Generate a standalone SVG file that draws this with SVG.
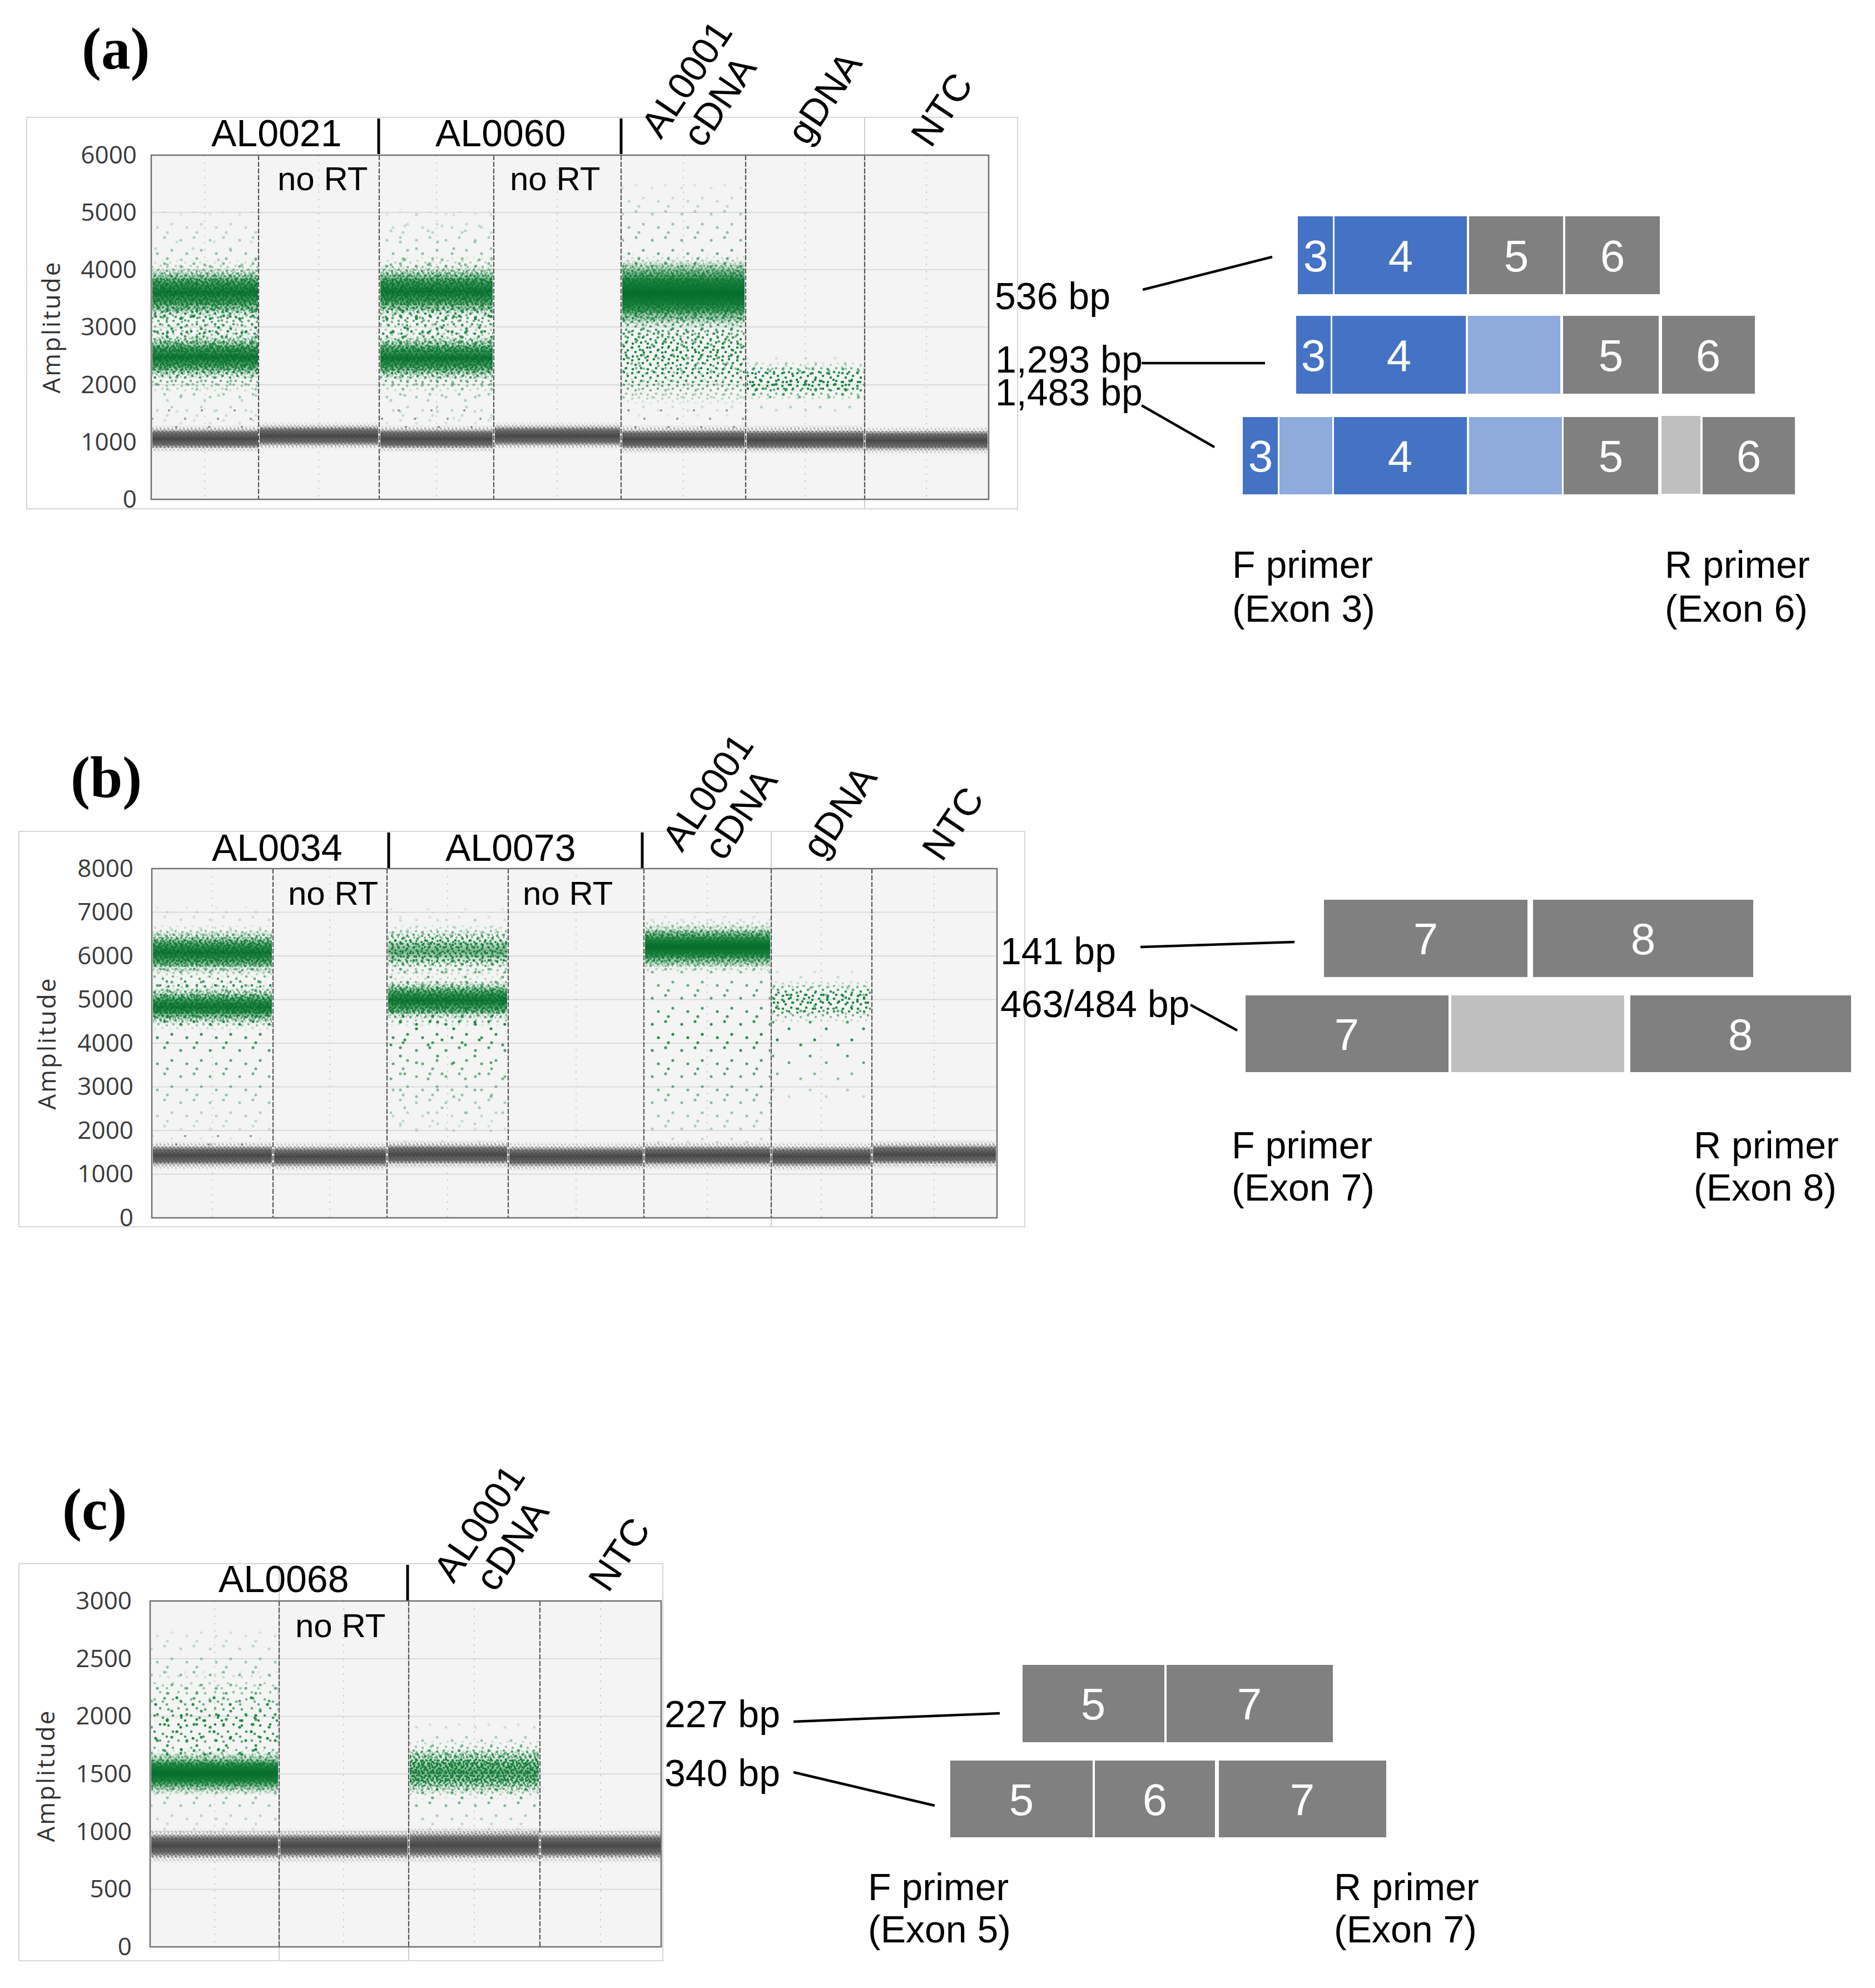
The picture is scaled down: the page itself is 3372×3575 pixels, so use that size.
<svg xmlns="http://www.w3.org/2000/svg" width="3372" height="3575" viewBox="0 0 3372 3575">
<style>
.lbl{font-family:"Liberation Sans",Arial,sans-serif;font-size:68px;fill:#000}
.nort{font-family:"Liberation Sans",Arial,sans-serif;font-size:60px;fill:#000}
.rot{font-family:"Liberation Sans",Arial,sans-serif;font-size:68px;fill:#000;text-anchor:middle}
.tick{font-family:"Open Sans","Liberation Sans",sans-serif;font-size:44px;fill:#3a3a3a;text-anchor:end}
.amp{font-family:"Open Sans","Liberation Sans",sans-serif;font-size:44px;letter-spacing:3px;fill:#333;text-anchor:middle}
.ex{font-family:"Liberation Sans",Arial,sans-serif;font-size:80px;fill:#fff;text-anchor:middle}
.pl{font-family:"Liberation Serif","Times New Roman",serif;font-weight:bold;font-size:105px;fill:#000}
.frame{fill:#fff;stroke:#d6d6d6;stroke-width:2}
.plot{fill:#f4f4f4}
.border{fill:none;stroke:#707070;stroke-width:2.5}
.grid{stroke:#d9d9d9;stroke-width:2}
.minor{stroke:#cfcfcf;stroke-width:2;stroke-dasharray:3 10}
.div{stroke:#555;stroke-width:2.2;stroke-dasharray:9 3}
.fl{stroke:#d0d0d0;stroke-width:2}
.sep{stroke:#000;stroke-width:5}
.conn{stroke:#000;stroke-width:4.5;fill:none}
.blue{fill:#4472c4}
.lblue{fill:#8faadc}
.gray{fill:#808080}
.lgray{fill:#bfbfbf}
</style>
<defs>
<pattern id="gd" width="16" height="14" patternUnits="userSpaceOnUse">
<g fill="#167f3a"><circle cx="2" cy="2" r="1.9"/><circle cx="9" cy="1" r="1.9"/><circle cx="14" cy="6" r="1.9"/><circle cx="5" cy="7" r="1.9"/><circle cx="11" cy="10" r="1.9"/><circle cx="1" cy="12" r="1.9"/><circle cx="7" cy="13" r="1.9"/></g>
</pattern>
<pattern id="gd2" width="19" height="17" patternUnits="userSpaceOnUse">
<g fill="#1a8640"><circle cx="4" cy="3" r="1.9"/><circle cx="13" cy="2" r="1.9"/><circle cx="8" cy="9" r="1.9"/><circle cx="17" cy="11" r="1.9"/><circle cx="2" cy="14" r="1.9"/><circle cx="11" cy="15" r="1.9"/></g>
</pattern>
<pattern id="gm" width="27" height="23" patternUnits="userSpaceOnUse">
<g fill="#1b8842"><circle cx="3" cy="4" r="2.3"/><circle cx="15" cy="2" r="2.3"/><circle cx="22" cy="9" r="2.3"/><circle cx="9" cy="12" r="2.3"/><circle cx="19" cy="18" r="2.3"/><circle cx="4" cy="20" r="2.3"/></g>
</pattern>
<pattern id="gm2" width="33" height="29" patternUnits="userSpaceOnUse">
<g fill="#1b8842"><circle cx="6" cy="5" r="2.3"/><circle cx="24" cy="3" r="2.3"/><circle cx="14" cy="16" r="2.3"/><circle cx="29" cy="20" r="2.3"/><circle cx="3" cy="25" r="2.3"/></g>
</pattern>
<pattern id="gs" width="53" height="47" patternUnits="userSpaceOnUse">
<g fill="#1b8842"><circle cx="7" cy="9" r="2.6"/><circle cx="31" cy="4" r="2.6"/><circle cx="44" cy="27" r="2.6"/><circle cx="18" cy="33" r="2.6"/><circle cx="36" cy="42" r="2.6"/></g>
</pattern>
<pattern id="gs2" width="67" height="61" patternUnits="userSpaceOnUse">
<g fill="#1b8842"><circle cx="12" cy="20" r="2.6"/><circle cx="50" cy="8" r="2.6"/><circle cx="33" cy="49" r="2.6"/><circle cx="58" cy="40" r="2.6"/></g>
</pattern>
<pattern id="kd" width="14" height="11" patternUnits="userSpaceOnUse">
<g fill="#555"><circle cx="2" cy="2" r="1.8"/><circle cx="9" cy="1" r="1.8"/><circle cx="12" cy="6" r="1.8"/><circle cx="5" cy="6" r="1.8"/><circle cx="1" cy="9" r="1.8"/><circle cx="8" cy="10" r="1.8"/></g>
</pattern>
<pattern id="ks" width="59" height="43" patternUnits="userSpaceOnUse">
<g fill="#8a8a8a"><circle cx="9" cy="7" r="2"/><circle cx="38" cy="22" r="2"/><circle cx="22" cy="37" r="2"/></g>
</pattern>
<linearGradient id="fg" x1="0" y1="0" x2="0" y2="1">
<stop offset="0" stop-color="#fff" stop-opacity="0"/><stop offset="0.3" stop-color="#fff" stop-opacity="1"/><stop offset="0.7" stop-color="#fff" stop-opacity="1"/><stop offset="1" stop-color="#fff" stop-opacity="0"/>
</linearGradient>
<linearGradient id="fgs" x1="0" y1="0" x2="0" y2="1">
<stop offset="0" stop-color="#fff" stop-opacity="0.1"/><stop offset="0.5" stop-color="#fff" stop-opacity="1"/><stop offset="1" stop-color="#fff" stop-opacity="0.1"/>
</linearGradient>
<mask id="fade" maskContentUnits="objectBoundingBox"><rect width="1" height="1" fill="url(#fg)"/></mask>
<mask id="fadeS" maskContentUnits="objectBoundingBox"><rect width="1" height="1" fill="url(#fgs)"/></mask>
<linearGradient id="gc" x1="0" y1="0" x2="0" y2="1">
<stop offset="0" stop-color="#0f7a33" stop-opacity="0"/><stop offset="0.3" stop-color="#0b7730" stop-opacity="0.75"/><stop offset="0.5" stop-color="#036d2a" stop-opacity="0.92"/><stop offset="0.7" stop-color="#0b7730" stop-opacity="0.75"/><stop offset="1" stop-color="#0f7a33" stop-opacity="0"/>
</linearGradient>
<linearGradient id="gcl" x1="0" y1="0" x2="0" y2="1">
<stop offset="0" stop-color="#138037" stop-opacity="0"/><stop offset="0.5" stop-color="#0f7a33" stop-opacity="0.55"/><stop offset="1" stop-color="#138037" stop-opacity="0"/>
</linearGradient>
<linearGradient id="kc" x1="0" y1="0" x2="0" y2="1">
<stop offset="0" stop-color="#6a6a6a" stop-opacity="0"/><stop offset="0.2" stop-color="#5a5a5a" stop-opacity="0.85"/><stop offset="0.5" stop-color="#474747" stop-opacity="1"/><stop offset="0.8" stop-color="#5a5a5a" stop-opacity="0.85"/><stop offset="1" stop-color="#6a6a6a" stop-opacity="0"/>
</linearGradient>
</defs>
<rect width="3372" height="3575" fill="#fff"/>

<!-- ================= PANEL A ================= -->
<g id="panel-a-title"><text class="pl" x="147" y="123">(a)</text></g>
<g id="chart-a">
<rect class="frame" x="48" y="211" width="1782" height="704"/>
<rect class="plot" x="272" y="279" width="1506" height="619"/>
<g class="grid"><line x1="272" x2="1778" y1="382" y2="382"/><line x1="272" x2="1778" y1="485" y2="485"/><line x1="272" x2="1778" y1="588" y2="588"/><line x1="272" x2="1778" y1="692" y2="692"/><line x1="272" x2="1778" y1="795" y2="795"/></g>
<g class="minor"><line x1="368" x2="368" y1="279" y2="898"/><line x1="573" x2="573" y1="279" y2="898"/><line x1="785" x2="785" y1="279" y2="898"/><line x1="1002" x2="1002" y1="279" y2="898"/><line x1="1229" x2="1229" y1="279" y2="898"/><line x1="1448" x2="1448" y1="279" y2="898"/><line x1="1666" x2="1666" y1="279" y2="898"/></g>
<line class="fl" x1="1555" x2="1555" y1="211" y2="915"/>
<g id="data-a">
<!-- AL0021 -->
<rect x="274" y="380" width="190" height="390" fill="url(#gs)" mask="url(#fadeS)"/>
<rect x="274" y="420" width="190" height="330" fill="url(#gs2)" mask="url(#fadeS)"/>
<rect x="274" y="540" width="190" height="110" fill="url(#gm2)" mask="url(#fadeS)"/>
<rect x="274" y="465" width="190" height="140" fill="url(#gm)" mask="url(#fade)"/>
<rect x="274" y="480" width="190" height="92" fill="url(#gd)" mask="url(#fade)"/>
<rect x="274" y="480" width="190" height="92" fill="url(#gd2)" mask="url(#fade)"/>
<rect x="274" y="490" width="190" height="72" fill="url(#gc)"/>
<rect x="274" y="588" width="190" height="120" fill="url(#gm)" mask="url(#fade)"/>
<rect x="274" y="602" width="190" height="80" fill="url(#gd)" mask="url(#fade)"/>
<rect x="274" y="602" width="190" height="80" fill="url(#gd2)" mask="url(#fade)"/>
<rect x="274" y="612" width="190" height="60" fill="url(#gc)"/>
<rect x="274" y="730" width="190" height="40" fill="url(#ks)"/>
<!-- AL0060 -->
<rect x="684" y="375" width="202" height="395" fill="url(#gs2)" mask="url(#fadeS)"/>
<rect x="684" y="380" width="202" height="390" fill="url(#gs)" mask="url(#fadeS)"/>
<rect x="684" y="540" width="202" height="110" fill="url(#gm2)" mask="url(#fadeS)"/>
<rect x="684" y="460" width="202" height="145" fill="url(#gm)" mask="url(#fade)"/>
<rect x="684" y="477" width="202" height="93" fill="url(#gd)" mask="url(#fade)"/>
<rect x="684" y="477" width="202" height="93" fill="url(#gd2)" mask="url(#fade)"/>
<rect x="684" y="488" width="202" height="72" fill="url(#gc)"/>
<rect x="684" y="590" width="202" height="118" fill="url(#gm)" mask="url(#fade)"/>
<rect x="684" y="604" width="202" height="80" fill="url(#gd)" mask="url(#fade)"/>
<rect x="684" y="604" width="202" height="80" fill="url(#gd2)" mask="url(#fade)"/>
<rect x="684" y="614" width="202" height="60" fill="url(#gc)"/>
<rect x="684" y="730" width="202" height="40" fill="url(#ks)"/>
<!-- AL0001 cDNA -->
<rect x="1119" y="330" width="220" height="420" fill="url(#gs)" mask="url(#fadeS)"/>
<rect x="1119" y="560" width="220" height="170" fill="url(#gm)" mask="url(#fade)"/>
<rect x="1119" y="570" width="220" height="120" fill="url(#gm2)" mask="url(#fadeS)"/>
<rect x="1119" y="455" width="220" height="155" fill="url(#gm)" mask="url(#fade)"/>
<rect x="1119" y="465" width="220" height="125" fill="url(#gd)" mask="url(#fade)"/>
<rect x="1119" y="465" width="220" height="125" fill="url(#gd2)" mask="url(#fade)"/>
<rect x="1119" y="472" width="220" height="110" fill="url(#gc)"/>
<rect x="1119" y="490" width="220" height="76" fill="url(#gc)"/>
<rect x="1119" y="730" width="220" height="40" fill="url(#ks)"/>
<!-- gDNA -->
<rect x="1343" y="640" width="210" height="105" fill="url(#gs)" mask="url(#fadeS)"/>
<rect x="1343" y="650" width="210" height="70" fill="url(#gm)" mask="url(#fade)"/>
<rect x="1343" y="656" width="210" height="56" fill="url(#gm2)" mask="url(#fade)"/>
<!-- gray bands -->
<rect x="274" y="764" width="190" height="50" fill="url(#kd)" mask="url(#fade)"/><rect x="274" y="771" width="190" height="36" fill="url(#kc)"/>
<rect x="467" y="759" width="213" height="50" fill="url(#kd)" mask="url(#fade)"/><rect x="467" y="766" width="213" height="36" fill="url(#kc)"/>
<rect x="684" y="764" width="202" height="50" fill="url(#kd)" mask="url(#fade)"/><rect x="684" y="771" width="202" height="36" fill="url(#kc)"/>
<rect x="890" y="759" width="225" height="50" fill="url(#kd)" mask="url(#fade)"/><rect x="890" y="766" width="225" height="36" fill="url(#kc)"/>
<rect x="1119" y="764" width="220" height="52" fill="url(#kd)" mask="url(#fade)"/><rect x="1119" y="772" width="220" height="36" fill="url(#kc)"/>
<rect x="1343" y="764" width="210" height="52" fill="url(#kd)" mask="url(#fade)"/><rect x="1343" y="773" width="210" height="36" fill="url(#kc)"/>
<rect x="1557" y="767" width="219" height="50" fill="url(#kd)" mask="url(#fade)"/><rect x="1557" y="774" width="219" height="36" fill="url(#kc)"/>
</g>
<g class="div"><line x1="465" x2="465" y1="279" y2="898"/><line x1="682" x2="682" y1="279" y2="898"/><line x1="888" x2="888" y1="279" y2="898"/><line x1="1117" x2="1117" y1="279" y2="898"/><line x1="1341" x2="1341" y1="279" y2="898"/><line x1="1555" x2="1555" y1="279" y2="898"/></g>
<rect class="border" x="272" y="279" width="1506" height="619"/>
<g class="tick"><text x="246" y="294">6000</text><text x="246" y="397">5000</text><text x="246" y="500">4000</text><text x="246" y="603">3000</text><text x="246" y="707">2000</text><text x="246" y="810">1000</text><text x="246" y="913">0</text></g>
<text class="amp" transform="translate(108 588) rotate(-90)">Amplitude</text>
</g>
<g id="labels-a">
<text class="lbl" x="380" y="263">AL0021</text>
<text class="lbl" x="783" y="263">AL0060</text>
<line class="sep" x1="681" x2="681" y1="213" y2="277"/>
<line class="sep" x1="1117" x2="1117" y1="213" y2="277"/>
<text class="nort" x="499" y="342">no RT</text>
<text class="nort" x="917" y="342">no RT</text>
<text class="rot" transform="translate(1254 155) rotate(-56)">AL0001</text>
<text class="rot" transform="translate(1313 195) rotate(-56)">cDNA</text>
<text class="rot" transform="translate(1502 189) rotate(-56)">gDNA</text>
<text class="rot" transform="translate(1713 210) rotate(-56)">NTC</text>
</g>
<g id="amplicons-a" transform="translate(-7 0)">
<text class="lbl" x="1796" y="556">536 bp</text>
<text class="lbl" x="1797" y="670">1,293 bp</text>
<text class="lbl" x="1797" y="729">1,483 bp</text>
</g>
<g id="exons-a-row1" transform="translate(-9 -2)">
<rect class="blue" x="2343" y="391" width="63" height="140"/><rect class="blue" x="2409" y="391" width="238" height="140"/><rect class="gray" x="2651" y="391" width="169" height="140"/><rect class="gray" x="2824" y="391" width="170" height="140"/>
<text class="ex" x="2375" y="490">3</text><text class="ex" x="2528" y="490">4</text><text class="ex" x="2736" y="490">5</text><text class="ex" x="2909" y="490">6</text>
</g>
<g id="exons-a-row2" transform="translate(-9 -2)">
<rect class="blue" x="2340" y="570" width="62" height="140"/><rect class="blue" x="2405" y="570" width="240" height="140"/><rect class="lblue" x="2649" y="570" width="166" height="140"/><rect class="gray" x="2820" y="570" width="172" height="140"/><rect class="gray" x="2998" y="570" width="167" height="140"/>
<text class="ex" x="2371" y="669">3</text><text class="ex" x="2525" y="669">4</text><text class="ex" x="2906" y="669">5</text><text class="ex" x="3081" y="669">6</text>
</g>
<g id="exons-a-row3" transform="translate(-9 -2)">
<rect class="blue" x="2244" y="752" width="63" height="139"/><rect class="lblue" x="2310" y="752" width="95" height="139"/><rect class="blue" x="2408" y="752" width="239" height="139"/><rect class="lblue" x="2651" y="752" width="167" height="139"/><rect class="gray" x="2821" y="752" width="170" height="139"/><rect class="lgray" x="2997" y="750" width="70" height="140"/><rect class="gray" x="3071" y="752" width="166" height="139"/>
<text class="ex" x="2276" y="850">3</text><text class="ex" x="2527" y="850">4</text><text class="ex" x="2906" y="850">5</text><text class="ex" x="3154" y="850">6</text>
</g>
<g id="primers-a">
<text class="lbl" x="2216" y="1039">F primer</text><text class="lbl" x="2216" y="1118">(Exon 3)</text>
<text class="lbl" x="2994" y="1039">R primer</text><text class="lbl" x="2994" y="1118">(Exon 6)</text>
</g>

<!-- ================= PANEL B ================= -->
<g id="panel-b-title"><text class="pl" x="127" y="1434">(b)</text></g>
<g id="chart-b">
<rect class="frame" x="34" y="1495" width="1809" height="711"/>
<rect class="plot" x="273" y="1562" width="1520" height="628"/>
<g class="grid"><line x1="273" x2="1793" y1="1640.5" y2="1640.5"/><line x1="273" x2="1793" y1="1719" y2="1719"/><line x1="273" x2="1793" y1="1797.5" y2="1797.5"/><line x1="273" x2="1793" y1="1876" y2="1876"/><line x1="273" x2="1793" y1="1954.5" y2="1954.5"/><line x1="273" x2="1793" y1="2033" y2="2033"/><line x1="273" x2="1793" y1="2111.5" y2="2111.5"/></g>
<g class="minor"><line x1="382" x2="382" y1="1562" y2="2190"/><line x1="593" x2="593" y1="1562" y2="2190"/><line x1="805" x2="805" y1="1562" y2="2190"/><line x1="1036" x2="1036" y1="1562" y2="2190"/><line x1="1272" x2="1272" y1="1562" y2="2190"/><line x1="1477" x2="1477" y1="1562" y2="2190"/><line x1="1680" x2="1680" y1="1562" y2="2190"/></g>
<line class="fl" x1="1387" x2="1387" y1="1495" y2="2206"/>
<g id="data-b">
<!-- AL0034 -->
<rect x="275" y="1630" width="214" height="420" fill="url(#gs)" mask="url(#fadeS)"/>
<rect x="275" y="1740" width="214" height="60" fill="url(#gm2)" mask="url(#fadeS)"/>
<rect x="275" y="1662" width="214" height="98" fill="url(#gm)" mask="url(#fade)"/>
<rect x="275" y="1674" width="214" height="76" fill="url(#gd)" mask="url(#fade)"/>
<rect x="275" y="1674" width="214" height="76" fill="url(#gd2)" mask="url(#fade)"/>
<rect x="275" y="1684" width="214" height="58" fill="url(#gc)"/>
<rect x="275" y="1765" width="214" height="90" fill="url(#gm)" mask="url(#fade)"/>
<rect x="275" y="1776" width="214" height="66" fill="url(#gd)" mask="url(#fade)"/>
<rect x="275" y="1776" width="214" height="66" fill="url(#gd2)" mask="url(#fade)"/>
<rect x="275" y="1786" width="214" height="48" fill="url(#gc)"/>
<!-- AL0073 -->
<rect x="698" y="1630" width="214" height="430" fill="url(#gs2)" mask="url(#fadeS)"/>
<rect x="698" y="1640" width="214" height="400" fill="url(#gs)" mask="url(#fadeS)"/>
<rect x="698" y="1662" width="214" height="94" fill="url(#gm)" mask="url(#fade)"/>
<rect x="698" y="1672" width="214" height="72" fill="url(#gd2)" mask="url(#fade)"/>
<rect x="698" y="1688" width="214" height="44" fill="url(#gcl)"/>
<rect x="698" y="1753" width="214" height="94" fill="url(#gm)" mask="url(#fade)"/>
<rect x="698" y="1764" width="214" height="70" fill="url(#gd)" mask="url(#fade)"/>
<rect x="698" y="1764" width="214" height="70" fill="url(#gd2)" mask="url(#fade)"/>
<rect x="698" y="1772" width="214" height="54" fill="url(#gc)"/>
<!-- cDNA -->
<rect x="1160" y="1640" width="225" height="440" fill="url(#gs)" mask="url(#fadeS)"/>
<rect x="1160" y="1652" width="225" height="100" fill="url(#gm)" mask="url(#fade)"/>
<rect x="1160" y="1662" width="225" height="82" fill="url(#gd)" mask="url(#fade)"/>
<rect x="1160" y="1662" width="225" height="82" fill="url(#gd2)" mask="url(#fade)"/>
<rect x="1160" y="1670" width="225" height="66" fill="url(#gc)"/>
<rect x="1160" y="1682" width="225" height="42" fill="url(#gc)"/>
<!-- gDNA -->
<rect x="1389" y="1740" width="177" height="250" fill="url(#gs2)" mask="url(#fadeS)"/>
<rect x="1389" y="1762" width="177" height="78" fill="url(#gm)" mask="url(#fade)"/>
<rect x="1389" y="1770" width="177" height="60" fill="url(#gm2)" mask="url(#fade)"/>
<!-- gray bands -->
<rect x="275" y="2040" width="214" height="40" fill="url(#ks)"/>
<rect x="275" y="2052" width="214" height="52" fill="url(#kd)" mask="url(#fade)"/><rect x="275" y="2060" width="214" height="36" fill="url(#kc)"/>
<rect x="493" y="2054" width="201" height="52" fill="url(#kd)" mask="url(#fade)"/><rect x="493" y="2062" width="201" height="36" fill="url(#kc)"/>
<rect x="698" y="2050" width="214" height="52" fill="url(#kd)" mask="url(#fade)"/><rect x="698" y="2058" width="214" height="36" fill="url(#kc)"/>
<rect x="916" y="2054" width="240" height="52" fill="url(#kd)" mask="url(#fade)"/><rect x="916" y="2062" width="240" height="36" fill="url(#kc)"/>
<rect x="1160" y="2052" width="225" height="52" fill="url(#kd)" mask="url(#fade)"/><rect x="1160" y="2060" width="225" height="36" fill="url(#kc)"/>
<rect x="1389" y="2054" width="177" height="52" fill="url(#kd)" mask="url(#fade)"/><rect x="1389" y="2062" width="177" height="36" fill="url(#kc)"/>
<rect x="1570" y="2050" width="221" height="52" fill="url(#kd)" mask="url(#fade)"/><rect x="1570" y="2058" width="221" height="36" fill="url(#kc)"/>
</g>
<g class="div"><line x1="491" x2="491" y1="1562" y2="2190"/><line x1="696" x2="696" y1="1562" y2="2190"/><line x1="914" x2="914" y1="1562" y2="2190"/><line x1="1158" x2="1158" y1="1562" y2="2190"/><line x1="1387" x2="1387" y1="1562" y2="2190"/><line x1="1568" x2="1568" y1="1562" y2="2190"/></g>
<rect class="border" x="273" y="1562" width="1520" height="628"/>
<g class="tick"><text x="240" y="1577">8000</text><text x="240" y="1655">7000</text><text x="240" y="1734">6000</text><text x="240" y="1812">5000</text><text x="240" y="1891">4000</text><text x="240" y="1969">3000</text><text x="240" y="2048">2000</text><text x="240" y="2126">1000</text><text x="240" y="2205">0</text></g>
<text class="amp" transform="translate(100 1876) rotate(-90)">Amplitude</text>
</g>
<g id="labels-b">
<text class="lbl" x="381" y="1548">AL0034</text>
<text class="lbl" x="801" y="1548">AL0073</text>
<line class="sep" x1="699" x2="699" y1="1497" y2="1561"/>
<line class="sep" x1="1155" x2="1155" y1="1497" y2="1561"/>
<text class="nort" x="518" y="1627">no RT</text>
<text class="nort" x="940" y="1627">no RT</text>
<text class="rot" transform="translate(1292 1437) rotate(-56)">AL0001</text>
<text class="rot" transform="translate(1351 1477) rotate(-56)">cDNA</text>
<text class="rot" transform="translate(1529 1473) rotate(-56)">gDNA</text>
<text class="rot" transform="translate(1733 1494) rotate(-56)">NTC</text>
</g>
<g id="amplicons-b" transform="translate(-7 -3)">
<text class="lbl" x="1806" y="1737">141 bp</text>
<text class="lbl" x="1806" y="1832">463/484 bp</text>
</g>
<g id="exons-b-row1" transform="translate(-8 -4)">
<rect class="gray" x="2389" y="1622" width="366" height="139"/><rect class="gray" x="2765" y="1622" width="396" height="139"/>
<text class="ex" x="2572" y="1720">7</text><text class="ex" x="2963" y="1720">8</text>
</g>
<g id="exons-b-row2" transform="translate(-8 -4)">
<rect class="gray" x="2248" y="1794" width="365" height="138"/><rect class="lgray" x="2618" y="1794" width="311" height="138"/><rect class="gray" x="2940" y="1794" width="397" height="138"/>
<text class="ex" x="2430" y="1892">7</text><text class="ex" x="3138" y="1892">8</text>
</g>
<g id="primers-b" transform="translate(-9 -3)">
<text class="lbl" x="2224" y="2086">F primer</text><text class="lbl" x="2224" y="2162">(Exon 7)</text>
<text class="lbl" x="3055" y="2086">R primer</text><text class="lbl" x="3055" y="2162">(Exon 8)</text>
</g>

<!-- ================= PANEL C ================= -->
<g id="panel-c-title"><text class="pl" x="112" y="2750">(c)</text></g>
<g id="chart-c" transform="translate(0 -5)">
<rect class="frame" x="34" y="2817" width="1158" height="714"/>
<rect class="plot" x="270" y="2884" width="919" height="622"/>
<g class="grid"><line x1="270" x2="1189" y1="2987.7" y2="2987.7"/><line x1="270" x2="1189" y1="3091.4" y2="3091.4"/><line x1="270" x2="1189" y1="3195" y2="3195"/><line x1="270" x2="1189" y1="3298.7" y2="3298.7"/><line x1="270" x2="1189" y1="3402.4" y2="3402.4"/></g>
<g class="minor"><line x1="386" x2="386" y1="2884" y2="3506"/><line x1="618" x2="618" y1="2884" y2="3506"/><line x1="853" x2="853" y1="2884" y2="3506"/><line x1="1080" x2="1080" y1="2884" y2="3506"/></g>
<line class="fl" x1="502" x2="502" y1="2817" y2="3531"/>
<line class="fl" x1="735" x2="735" y1="2884" y2="3531"/>
<g id="data-c">
<!-- AL0068 -->
<rect x="272" y="2930" width="228" height="380" fill="url(#gs)" mask="url(#fadeS)"/>
<rect x="272" y="3010" width="228" height="190" fill="url(#gm2)" mask="url(#fadeS)"/>
<rect x="272" y="3040" width="228" height="130" fill="url(#gs2)"/>
<rect x="272" y="3150" width="228" height="86" fill="url(#gm)" mask="url(#fade)"/>
<rect x="272" y="3156" width="228" height="76" fill="url(#gd)" mask="url(#fade)"/>
<rect x="272" y="3156" width="228" height="76" fill="url(#gd2)" mask="url(#fade)"/>
<rect x="272" y="3162" width="228" height="64" fill="url(#gc)"/>
<rect x="272" y="3172" width="228" height="44" fill="url(#gc)"/>
<!-- cDNA -->
<rect x="737" y="3100" width="232" height="200" fill="url(#gs)" mask="url(#fadeS)"/>
<rect x="737" y="3132" width="232" height="110" fill="url(#gm)" mask="url(#fade)"/>
<rect x="737" y="3148" width="232" height="84" fill="url(#gd2)" mask="url(#fade)"/>
<rect x="737" y="3150" width="232" height="80" fill="url(#gd)" mask="url(#fade)"/>
<rect x="737" y="3160" width="232" height="62" fill="url(#gcl)"/>
<!-- gray -->
<rect x="272" y="3294" width="228" height="62" fill="url(#kd)" mask="url(#fade)"/><rect x="272" y="3302" width="228" height="44" fill="url(#kc)"/>
<rect x="504" y="3294" width="229" height="62" fill="url(#kd)" mask="url(#fade)"/><rect x="504" y="3302" width="229" height="44" fill="url(#kc)"/>
<rect x="737" y="3290" width="232" height="66" fill="url(#kd)" mask="url(#fade)"/><rect x="737" y="3300" width="232" height="46" fill="url(#kc)"/>
<rect x="973" y="3294" width="215" height="62" fill="url(#kd)" mask="url(#fade)"/><rect x="973" y="3302" width="215" height="44" fill="url(#kc)"/>
</g>
<g class="div"><line x1="502" x2="502" y1="2884" y2="3506"/><line x1="735" x2="735" y1="2884" y2="3506"/><line x1="971" x2="971" y1="2884" y2="3506"/></g>
<rect class="border" x="270" y="2884" width="919" height="622"/>
<g class="tick"><text x="237" y="2899">3000</text><text x="237" y="3003">2500</text><text x="237" y="3106">2000</text><text x="237" y="3210">1500</text><text x="237" y="3314">1000</text><text x="237" y="3417">500</text><text x="237" y="3521">0</text></g>
<text class="amp" transform="translate(98 3198) rotate(-90)">Amplitude</text>
</g>
<g id="labels-c" transform="translate(0 -5)">
<text class="lbl" x="393" y="2868">AL0068</text>
<line class="sep" x1="733" x2="733" y1="2819" y2="2883"/>
<text class="nort" x="531" y="2949">no RT</text>
<text class="rot" transform="translate(881 2757) rotate(-56)">AL0001</text>
<text class="rot" transform="translate(940 2797) rotate(-56)">cDNA</text>
<text class="rot" transform="translate(1133 2813) rotate(-56)">NTC</text>
</g>
<g id="amplicons-c" transform="translate(-5 -6)">
<text class="lbl" x="1200" y="3112">227 bp</text>
<text class="lbl" x="1200" y="3218">340 bp</text>
</g>
<g id="exons-c-row1" transform="translate(-5 -6)">
<rect class="gray" x="1844" y="3000" width="255" height="139"/><rect class="gray" x="2103" y="3000" width="299" height="139"/>
<text class="ex" x="1971" y="3098">5</text><text class="ex" x="2252" y="3098">7</text>
</g>
<g id="exons-c-row2" transform="translate(-5 -6)">
<rect class="gray" x="1714" y="3172" width="256" height="138"/><rect class="gray" x="1974" y="3172" width="216" height="138"/><rect class="gray" x="2197" y="3172" width="301" height="138"/>
<text class="ex" x="1842" y="3270">5</text><text class="ex" x="2082" y="3270">6</text><text class="ex" x="2347" y="3270">7</text>
</g>
<g id="primers-c" transform="translate(-6 -5)">
<text class="lbl" x="1567" y="3422">F primer</text><text class="lbl" x="1567" y="3498">(Exon 5)</text>
<text class="lbl" x="2405" y="3422">R primer</text><text class="lbl" x="2405" y="3498">(Exon 7)</text>
</g>

<g id="connectors">
<line class="conn" x1="2055" y1="521" x2="2288" y2="462"/>
<line class="conn" x1="2053" y1="653" x2="2275" y2="653"/>
<line class="conn" x1="2053" y1="729" x2="2184" y2="804"/>
<line class="conn" x1="2051" y1="1703" x2="2328" y2="1694"/>
<line class="conn" x1="2141" y1="1807" x2="2225" y2="1853"/>
<line class="conn" x1="1427" y1="3096" x2="1798" y2="3081"/>
<line class="conn" x1="1427" y1="3187" x2="1681" y2="3247"/>
</g>
</svg>
